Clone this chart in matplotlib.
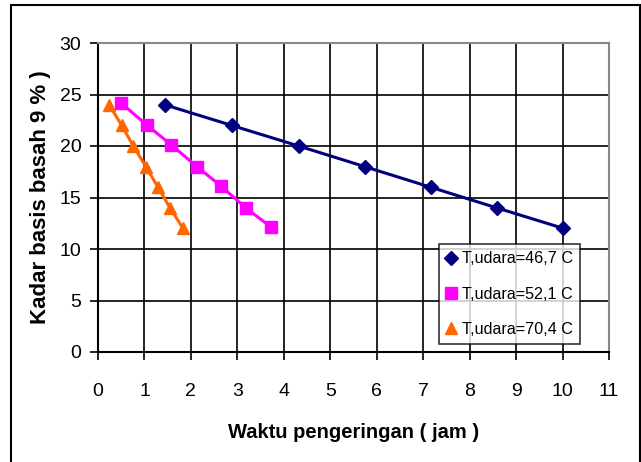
import matplotlib
matplotlib.use("Agg")
import matplotlib.pyplot as plt
from matplotlib.lines import Line2D
from matplotlib.patches import Rectangle

plt.rcParams['font.family'] = ['Liberation Sans', 'DejaVu Sans']

labels = ["T,udara=46,7 C", "T,udara=52,1 C", "T,udara=70,4 C"]
x_467 = [1.44, 2.88, 4.32, 5.74, 7.16, 8.58, 10.02]
y_467 = [24, 22, 20, 18, 16, 14, 12]
x_521 = [0.49, 1.06, 1.58, 2.13, 2.65, 3.18, 3.73]
y_521 = [24.2, 22, 20.1, 18, 16.1, 14, 12.1]
x_704 = [0.24, 0.51, 0.76, 1.03, 1.29, 1.55, 1.83]
y_704 = [24, 22, 20, 18, 16, 14, 12]
x_ticks = list(range(0, 12))
y_ticks = [0, 5, 10, 15, 20, 25, 30]

colors = ["#000080", "#FF00FF", "#FF6600"]
markers = ["D", "s", "^"]
msizes = [7.5, 8, 8.5]

fig = plt.figure(figsize=(6.41, 4.62), dpi=100)
fig.patches.append(Rectangle((11/641, -0.05), (640-11)/641, 1.05 - 5/462,
                             transform=fig.transFigure, fill=False,
                             edgecolor='black', linewidth=1.5))
ax = fig.add_axes([98/641, 1-352/462, (609-98)/641, (352-43)/462])

series = [(x_467, y_467), (x_521, y_521), (x_704, y_704)]
for (xs, ys), c, m, ms in zip(series, colors, markers, msizes):
    ax.plot(xs, ys, color=c, marker=m, markersize=ms, linewidth=2.2,
            markeredgecolor=c, zorder=3, clip_on=False)

ax.set_xlim(0, 11)
ax.set_ylim(0, 30)
ax.set_xticks(x_ticks)
ax.set_yticks(y_ticks)
ax.grid(True, color='black', linewidth=1.2)
ax.set_axisbelow(True)
for s in ['top', 'right']:
    ax.spines[s].set_color('#888888')
    ax.spines[s].set_linewidth(1.5)
for s in ['left', 'bottom']:
    ax.spines[s].set_color('black')
    ax.spines[s].set_linewidth(1.5)
ax.tick_params(axis='both', labelsize=14, length=6, width=1.2, direction='out')
ax.tick_params(axis='x', pad=16)
ax.tick_params(axis='y', pad=6)

ax.set_xlabel("Waktu pengeringan ( jam )", fontsize=14.5, fontweight='bold', labelpad=17)
ax.set_ylabel("Kadar basis basah 9 % )", fontsize=16, fontweight='bold', labelpad=6)

handles = [Line2D([], [], color=c, marker=m, linestyle='none', markersize=ms)
           for c, m, ms in zip(colors, markers, msizes)]
leg = ax.legend(handles, labels, loc='lower left', bbox_to_anchor=(0.668, 0.026),
                fontsize=11.6, frameon=True, fancybox=False,
                edgecolor='black', handlelength=0.6, handletextpad=0.35,
                borderpad=0.45, labelspacing=1.25, borderaxespad=0)
leg.get_frame().set_linewidth(1.2)

fig.savefig("out.png", dpi=100)
